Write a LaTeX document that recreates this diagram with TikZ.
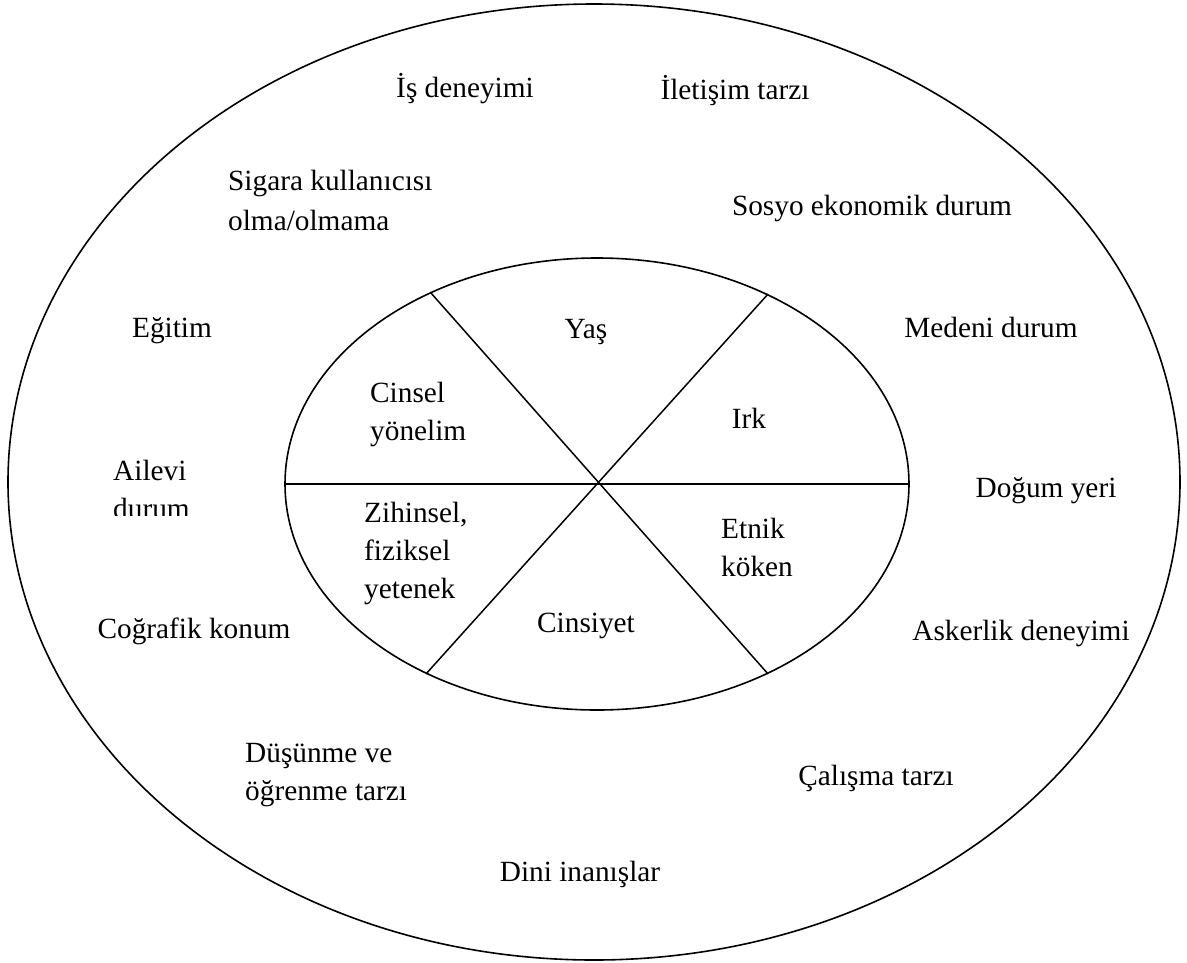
\documentclass[tikz,border=0pt]{standalone}
\usepackage{fontspec}
\setmainfont{Liberation Serif}
\usetikzlibrary{shapes.geometric}
\newcommand{\mlines}[1]{\begin{tabular}[t]{@{}l@{}}#1\end{tabular}}
\begin{document}
\begin{tikzpicture}[x=1pt,y=-1pt,
  lbl/.style={inner sep=0pt, font=\fontsize{29.3}{38}\selectfont},
  ring/.style={draw, ellipse, line width=1.6pt, inner sep=0pt},
  divider/.style={line width=1.5pt}]
\useasboundingbox (0,0) rectangle (1187,962);
% rings
\node[ring, minimum width=1172pt, minimum height=956pt] (outer) at (594,482) {};
\node[ring, minimum width=624pt, minimum height=452pt] (inner) at (597,484) {};
% dividers
\draw[divider] (inner.west) -- (inner.east);
\draw[divider] (inner.131.5) -- (inner.-48.5);
\draw[divider] (inner.48) -- (inner.-132);
% inner labels
\node[lbl, anchor=base] (yas) at (586,338) {Yaş};
\node[lbl, anchor=base west] (cinsel) at (370,402) {\mlines{Cinsel\\yönelim}};
\node[lbl, anchor=base] (irk) at (749,428) {Irk};
\node[lbl, anchor=base west] (zihin) at (364,522) {\mlines{Zihinsel,\\fiziksel\\yetenek}};
\node[lbl, anchor=base west] (etnik) at (721,538) {\mlines{Etnik\\köken}};
\node[lbl, anchor=base] (cinsiyet) at (586,632) {Cinsiyet};
% outer labels
\node[lbl, anchor=base] (is) at (465,97) {İş deneyimi};
\node[lbl, anchor=base] (iletisim) at (735,99) {İletişim tarzı};
\node[lbl, anchor=base west] (sigara) at (228,190) {\mlines{Sigara kullanıcısı\\[2pt]olma/olmama}};
\node[lbl, anchor=base] (sosyo) at (872,215) {Sosyo ekonomik durum};
\node[lbl, anchor=base] (egitim) at (172,337) {Eğitim};
\node[lbl, anchor=base] (medeni) at (991,337) {Medeni durum};
\begin{scope}
  \clip (100,440) rectangle (240,515);
  \node[lbl, anchor=base west] (ailevi) at (113,480) {\mlines{Ailevi\\durum}};
\end{scope}
\node[lbl, anchor=base] (dogum) at (1046,497) {Doğum yeri};
\node[lbl, anchor=base] (cografik) at (194,638) {Coğrafik konum};
\node[lbl, anchor=base] (askerlik) at (1021,640) {Askerlik deneyimi};
\node[lbl, anchor=base west] (dusunme) at (245,762) {\mlines{Düşünme ve\\öğrenme tarzı}};
\node[lbl, anchor=base] (calisma) at (876,785) {Çalışma tarzı};
\node[lbl, anchor=base] (dini) at (580,881) {Dini inanışlar};
\end{tikzpicture}
\end{document}
